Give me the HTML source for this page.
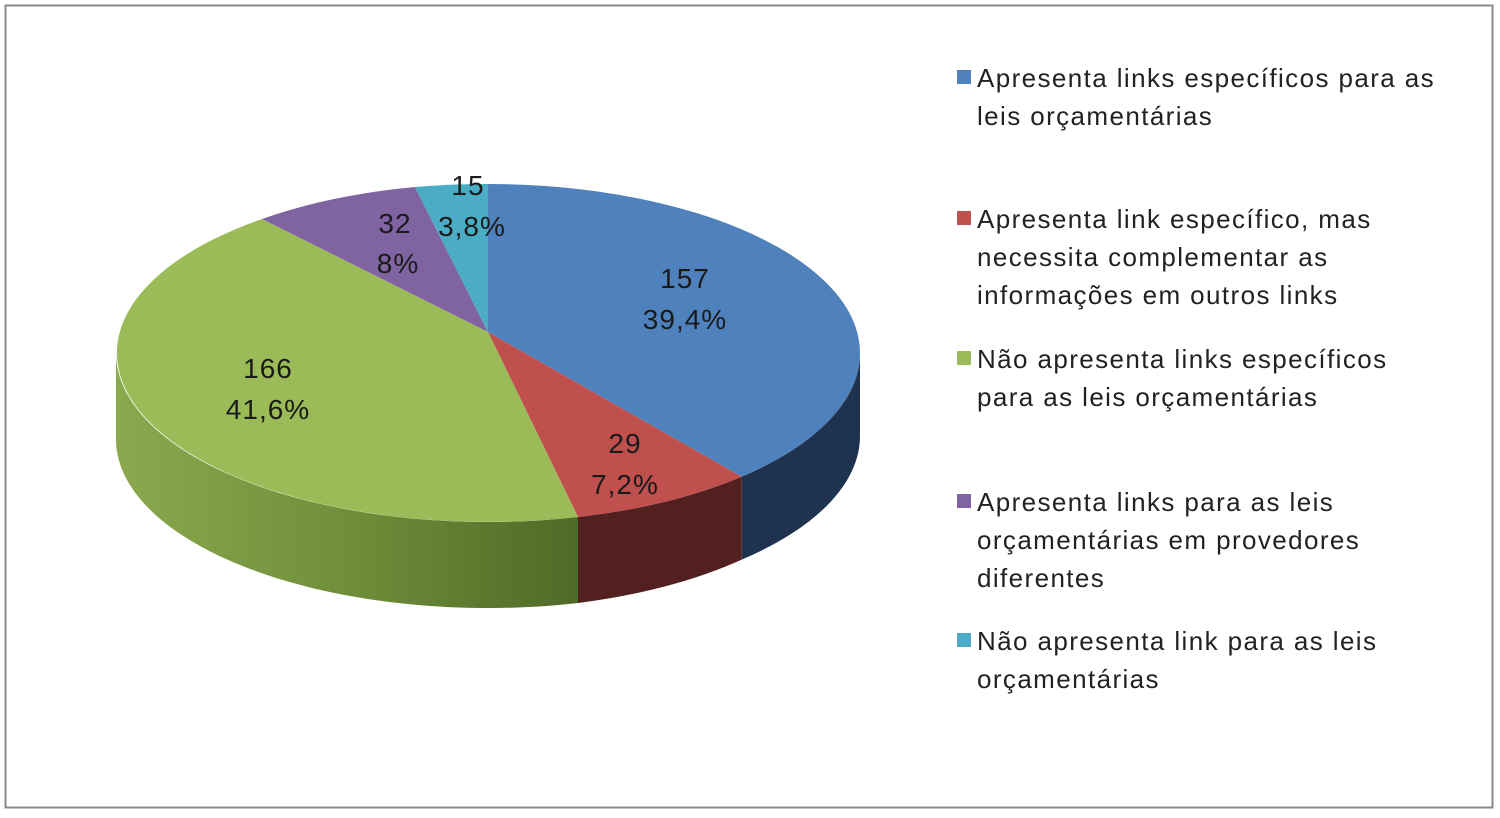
<!DOCTYPE html>
<html><head><meta charset="utf-8"><style>
body{margin:0;background:#fff;width:1500px;height:813px;overflow:hidden;font-family:"Liberation Sans",sans-serif}
</style></head><body>
<svg width="1500" height="813" xmlns="http://www.w3.org/2000/svg" font-family="Liberation Sans, sans-serif">
<defs>
<linearGradient id="gg" x1="0" x2="1" y1="0" y2="0">
<stop offset="0" stop-color="#8aa84e"/><stop offset="0.5" stop-color="#6f8f3a"/><stop offset="1" stop-color="#4f6a26"/>
</linearGradient>
</defs>
<rect x="5.5" y="5.5" width="1487" height="802" fill="#fff" stroke="#8a8a8a" stroke-width="2"/>
<path d="M860,353 A372,169 0 0 1 741.7,476.6 L741.7,559.6 A372,169 0 0 0 860,436 Z" fill="#1f3350"/>
<path d="M741.7,476.6 A372,169 0 0 1 578,517 L578,603 A372,169 0 0 0 741.7,559.6 Z" fill="#52201f"/>
<path d="M578,517 A372,169 0 0 1 116,353 L116,436 A372,169 0 0 0 578,603 Z" fill="url(#gg)"/>
<path d="M488,332 L488,184 A372,169 0 0 1 741.7,476.6 Z" fill="#4f81bd"/>
<path d="M488,332 L741.7,476.6 A372,169 0 0 1 578,517 Z" fill="#c0504d"/>
<path d="M488,332 L578,517 A372,169 0 0 1 262,219 Z" fill="#9bbb59"/>
<path d="M488,332 L262,219 A372,169 0 0 1 415,187 Z" fill="#8064a2"/>
<path d="M488,332 L415,187 A372,169 0 0 1 488,184 Z" fill="#4bacc6"/>
<g font-size="28" fill="#1a1a1a" text-anchor="middle" letter-spacing="1">
<text x="685" y="288">157</text><text x="685" y="329">39,4%</text>
<text x="625" y="453">29</text><text x="625" y="494">7,2%</text>
<text x="268" y="378">166</text><text x="268" y="419">41,6%</text>
<text x="395" y="233">32</text><text x="398" y="273">8%</text>
<text x="468" y="195">15</text><text x="472" y="236">3,8%</text>
</g>
<g font-size="26" fill="#222" letter-spacing="1.4">
<rect x="957" y="70" width="14" height="14" fill="#4f81bd"/>
<text x="977" y="87">Apresenta links específicos para as</text>
<text x="977" y="125">leis orçamentárias</text>
<rect x="957" y="211" width="14" height="14" fill="#c0504d"/>
<text x="977" y="228">Apresenta link específico, mas</text>
<text x="977" y="266">necessita complementar as</text>
<text x="977" y="304">informações em outros links</text>
<rect x="957" y="351" width="14" height="14" fill="#9bbb59"/>
<text x="977" y="368">Não apresenta links específicos</text>
<text x="977" y="406">para as leis orçamentárias</text>
<rect x="957" y="494" width="14" height="14" fill="#8064a2"/>
<text x="977" y="511">Apresenta links para as leis</text>
<text x="977" y="549">orçamentárias em provedores</text>
<text x="977" y="587">diferentes</text>
<rect x="957" y="633" width="14" height="14" fill="#4bacc6"/>
<text x="977" y="650">Não apresenta link para as leis</text>
<text x="977" y="688">orçamentárias</text>
</g>
</svg>
</body></html>
